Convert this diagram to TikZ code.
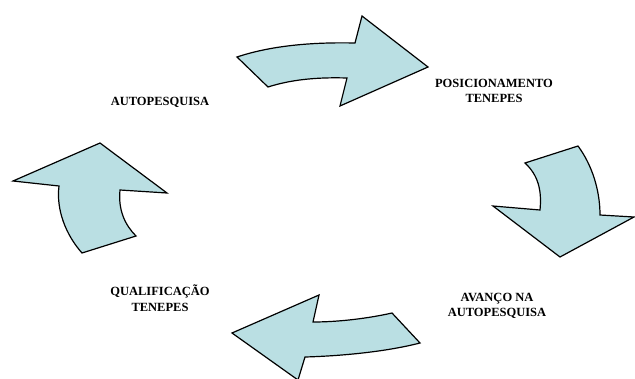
\documentclass[tikz,border=0pt]{standalone}
\usepackage{fontspec}
\setmainfont{Liberation Serif}
\usepackage{xcolor}
\definecolor{arrowfill}{RGB}{186,223,227}

\begin{document}
\begin{tikzpicture}[x=1pt,y=-1pt,
  curvedarrow/.style={draw=black, fill=arrowfill, line width=1.2pt, line join=miter},
  steplabel/.style={font=\bfseries\fontsize{12.5}{15.5}\selectfont, align=center, inner sep=0pt}]
\useasboundingbox (0,0) rectangle (635,378);
% top arrow
\draw[curvedarrow] (237,57) .. controls (270,46) and (310,42) .. (355,43)
  -- (362,16) -- (428,67) -- (340,106) -- (347,78)
  .. controls (315,77) and (290,80) .. (268,87) -- cycle;
% right arrow
\draw[curvedarrow] (525,163) -- (578,146)
  .. controls (592,165) and (600,190) .. (600,215)
  -- (634,217) -- (560,257) -- (493,206) -- (540,210)
  .. controls (542,190) and (538,175) .. cycle;
% bottom arrow
\draw[curvedarrow] (392,313) -- (420,343)
  .. controls (385,352) and (340,356) .. (305,357)
  -- (298,380) -- (232,333) -- (319,295) -- (313,322)
  .. controls (340,322) and (370,318) .. cycle;
% left arrow
\draw[curvedarrow] (82,253) -- (136,236)
  .. controls (125,225) and (118,210) .. (120,190)
  -- (167,193) -- (100,143) -- (13,181) -- (59,186)
  .. controls (56,210) and (66,235) .. cycle;
% labels
\node[steplabel] (autopesquisa) at (160,102) {AUTOPESQUISA};
\node[steplabel] (posicionamento) at (494,91) {POSICIONAMENTO\\TENEPES};
\node[steplabel] (avanco) at (497,306) {AVANÇO NA\\AUTOPESQUISA};
\node[steplabel] (qualificacao) at (160,298) {QUALIFICAÇÃO\\TENEPES};
\end{tikzpicture}
\end{document}
